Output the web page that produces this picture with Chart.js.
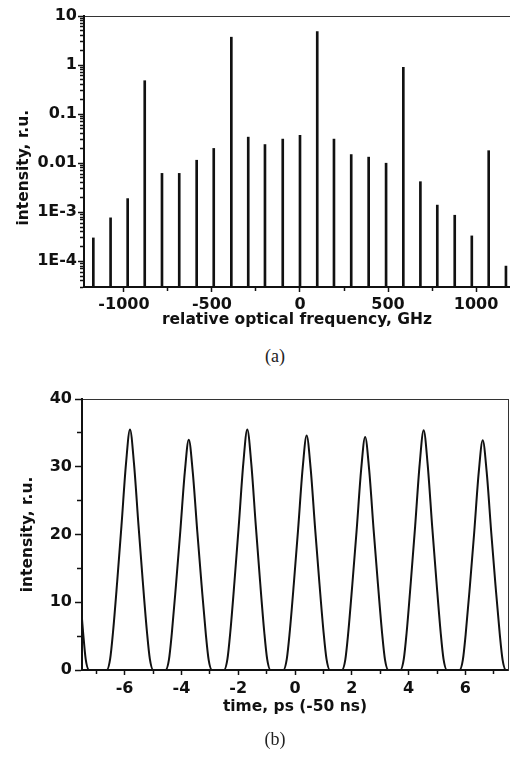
<!DOCTYPE html>
<html>
<head>
<meta charset="utf-8">
<script src="https://cdn.jsdelivr.net/npm/chart.js@4.4.0/dist/chart.umd.min.js"></script>
<style>
  body { margin: 0; background: #fff; width: 510px; height: 760px; position: relative; overflow: hidden; }
  canvas { position: absolute; left: 0; }
  #spectrum { top: 0; }
  #pulses { top: 370px; }
  .caption { position: absolute; left: 245px; width: 60px; text-align: center; font: 18px 'Liberation Serif', 'Times New Roman', serif; line-height: 18px; color: #222; }
</style>
</head>
<body>
<canvas id="spectrum" width="510" height="340"></canvas>
<div class="caption" style="top:347px">(a)</div>
<canvas id="pulses" width="510" height="390"></canvas>
<div class="caption" style="top:730px">(b)</div>
<script>
// spectrum lines (a)
const lineFreq = [-1174, -1076, -979, -882, -784, -686, -587, -490, -390, -294, -199, -98, 0,
                  98, 193, 291, 390, 489, 587, 684, 780, 879, 976, 1072, 1170];
const lineIntensity = [3.0e-4, 7.7e-4, 1.9e-3, 0.48, 6.2e-3, 6.2e-3, 0.0115, 0.020, 3.7, 0.034, 0.024, 0.031, 0.037,
                       4.8, 0.031, 0.015, 0.0133, 0.010, 0.90, 4.2e-3, 1.4e-3, 8.7e-4, 3.3e-4, 0.018, 8.0e-5];
const freqTicks = [-1000, -750, -500, -250, 0, 250, 500, 750, 1000];
const freqLabels = [-1000, -500, 0, 500, 1000];
const logLabels = ['1E-4', '1E-3', '0.01', '0.1', '1', '10']; // decades -4 .. 1

// pulse train (b)
const pulseTime = [
  -7.5, -7.46, -7.37, -7.25,
  -6.63, -6.51, -6.41, -6.26, -6.11, -5.95, -5.81, -5.67, -5.51, -5.36, -5.21, -5.11, -4.99,
  -4.56, -4.44, -4.34, -4.19, -4.04, -3.88, -3.74, -3.60, -3.44, -3.29, -3.14, -3.04, -2.92,
  -2.50, -2.38, -2.28, -2.13, -1.98, -1.82, -1.68, -1.54, -1.38, -1.23, -1.08, -0.98, -0.86,
  -0.41, -0.29, -0.19, -0.04, 0.11, 0.27, 0.41, 0.55, 0.71, 0.86, 1.01, 1.11, 1.23,
  1.65, 1.77, 1.87, 2.02, 2.17, 2.33, 2.47, 2.61, 2.77, 2.92, 3.07, 3.17, 3.29,
  3.71, 3.83, 3.93, 4.08, 4.23, 4.39, 4.53, 4.67, 4.83, 4.98, 5.13, 5.23, 5.35,
  5.79, 5.91, 6.01, 6.16, 6.31, 6.47, 6.61, 6.75, 6.91, 7.06, 7.21, 7.31, 7.43, 7.5
];
const pulseIntensity = [
  7.5, 5.5, 1.6, 0,
  0, 1.6, 5.5, 13.1, 21.3, 30.5, 35.5, 30.5, 21.3, 13.1, 5.5, 1.6, 0,
  0, 1.5, 5.3, 12.6, 20.4, 29.2, 34.0, 29.2, 20.4, 12.6, 5.3, 1.5, 0,
  0, 1.6, 5.5, 13.1, 21.3, 30.5, 35.5, 30.5, 21.3, 13.1, 5.5, 1.6, 0,
  0, 1.6, 5.4, 12.8, 20.8, 29.8, 34.6, 29.8, 20.8, 12.8, 5.4, 1.6, 0,
  0, 1.5, 5.3, 12.7, 20.6, 29.6, 34.4, 29.6, 20.6, 12.7, 5.3, 1.5, 0,
  0, 1.6, 5.5, 13.1, 21.2, 30.4, 35.4, 30.4, 21.2, 13.1, 5.5, 1.6, 0,
  0, 1.5, 5.3, 12.5, 20.3, 29.2, 33.9, 29.2, 20.3, 12.5, 5.3, 1.5, 0, 0
];
const timeTicks = [-7, -6, -5, -4, -3, -2, -1, 0, 1, 2, 3, 4, 5, 6, 7];
const timeLabels = [-6, -4, -2, 0, 2, 4, 6];
const pulseTicks = [0, 5, 10, 15, 20, 25, 30, 35, 40];
const pulseLabels = [0, 10, 20, 30, 40];

const ink = '#111';
const tickFont = { family: "'DejaVu Sans', sans-serif", size: 16, weight: 'bold' };
const titleFont = { family: "'DejaVu Sans', sans-serif", size: 15.5, weight: 'bold' };

const isDecade = v => Math.abs(Math.log10(v) - Math.round(Math.log10(v))) < 1e-9;

// frame line only (no ticks, no size)
const frameAxis = (pos) => ({
  type: 'linear', position: pos, display: true,
  ticks: { display: false }, grid: { display: false },
  border: { color: '#333', width: 1 },
  afterFit: s => { if (pos === 'top') s.height = 0; else s.width = 0; }
});

// ////// (a) spectrum
new Chart(document.querySelector('#spectrum'), {
  type: 'bar',
  data: {
    datasets: [{
      data: lineFreq.map((f, i) => ({ x: f, y: lineIntensity[i] })),
      backgroundColor: ink,
      barThickness: 2,
      grouped: false
    }]
  },
  options: {
    responsive: false,
    animation: false,
    layout: { padding: { top: 16, right: 0, bottom: 11, left: 0 } },
    plugins: { legend: { display: false }, tooltip: { enabled: false } },
    scales: {
      x: {
        type: 'linear', min: -1227, max: 1193, offset: false,
        afterBuildTicks: s => { s.ticks = freqTicks.map(v => ({ value: v })); },
        afterFit: s => { s.height = 42; },
        ticks: { autoSkip: false, maxRotation: 0, padding: 3, color: ink, font: tickFont,
                 callback: v => freqLabels.includes(v) ? String(v) : '' },
        grid: { offset: false, drawOnChartArea: false, tickLength: 5, tickWidth: 1.5, tickColor: ink,
                tickBorderDash: c => (c.tick && !freqLabels.includes(c.tick.value)) ? [3, 50] : [] },
        border: { color: ink, width: 2 },
        title: { display: true, text: 'relative optical frequency, GHz', color: ink, font: titleFont, padding: 0 }
      },
      xTop: frameAxis('top'),
      y: {
        type: 'logarithmic', min: 3e-5, max: 10,
        afterBuildTicks: s => {
          const t = [];
          for (let e = -5; e <= 1; e++) {
            for (let m = 1; m < 10; m++) {
              const v = m * Math.pow(10, e);
              if (v >= s.min * 0.999 && v <= s.max * 1.001) t.push({ value: v });
            }
          }
          s.ticks = t;
        },
        afterFit: s => { s.width = 84; },
        ticks: { autoSkip: false, padding: 1, color: ink, font: tickFont,
                 callback: v => isDecade(v) ? logLabels[Math.round(Math.log10(v)) + 4] : '' },
        grid: { drawOnChartArea: false, tickLength: 6, tickWidth: 1.5, tickColor: ink,
                tickBorderDash: c => (c.tick && !isDecade(c.tick.value)) ? [0, 2, 3, 50] : [] },
        border: { color: ink, width: 2 },
        title: { display: true, text: 'intensity, r.u.' + '\u00a0'.repeat(6), color: ink, font: titleFont,
                 padding: { top: 15, bottom: 0 } }
      }
    }
  }
});

// ////// (b) pulses
new Chart(document.querySelector('#pulses'), {
  type: 'line',
  data: {
    datasets: [{
      data: pulseTime.map((t, i) => ({ x: t, y: pulseIntensity[i] })),
      borderColor: ink,
      borderWidth: 2,
      pointRadius: 0,
      cubicInterpolationMode: 'monotone',
      fill: false
    }]
  },
  options: {
    responsive: false,
    animation: false,
    layout: { padding: { top: 29, right: 2, bottom: 44, left: 0 } },
    plugins: { legend: { display: false }, tooltip: { enabled: false } },
    scales: {
      x: {
        type: 'linear', min: -7.5, max: 7.5,
        afterBuildTicks: s => { s.ticks = timeTicks.map(v => ({ value: v })); },
        afterFit: s => { s.height = 46; },
        ticks: { autoSkip: false, maxRotation: 0, padding: 4, color: ink, font: tickFont,
                 callback: v => timeLabels.includes(v) ? String(v) : '' },
        grid: { drawOnChartArea: false, tickLength: 5, tickWidth: 1.5, tickColor: ink,
                tickBorderDash: c => (c.tick && !timeLabels.includes(c.tick.value)) ? [3, 50] : [] },
        border: { color: ink, width: 2 },
        title: { display: true, text: 'time, ps (-50 ns)', color: ink, font: titleFont, padding: 0 }
      },
      xTop: frameAxis('top'),
      y: {
        type: 'linear', min: 0, max: 40,
        afterBuildTicks: s => { s.ticks = pulseTicks.map(v => ({ value: v })); },
        afterFit: s => { s.width = 82; },
        ticks: { autoSkip: false, padding: 3, color: ink, font: tickFont,
                 callback: v => pulseLabels.includes(v) ? String(v) : '' },
        grid: { drawOnChartArea: false, tickLength: 7, tickWidth: 1.5, tickColor: ink,
                tickBorderDash: c => (c.tick && !pulseLabels.includes(c.tick.value)) ? [0, 2, 4, 50] : [] },
        border: { color: ink, width: 2 },
        title: { display: true, text: 'intensity, r.u.', color: ink, font: titleFont,
                 padding: { top: 19, bottom: 0 } }
      },
      yRight: frameAxis('right')
    }
  }
});
</script>
</body>
</html>
